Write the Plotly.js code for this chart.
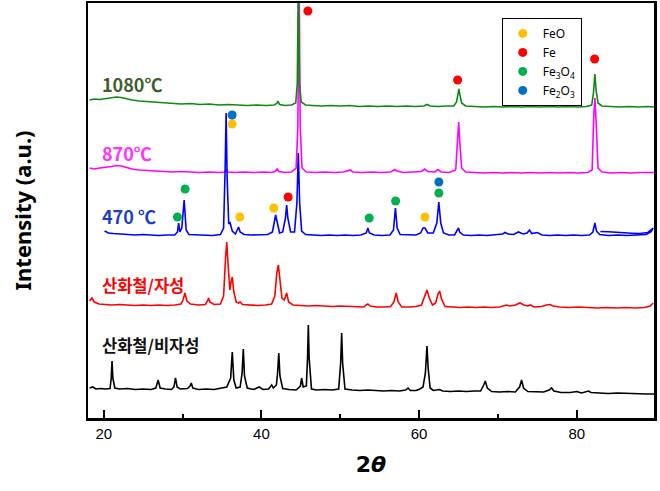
<!DOCTYPE html>
<html>
<head>
<meta charset="utf-8">
<script src="https://cdn.plot.ly/plotly-3.0.1.min.js"></script>
<style>html,body{margin:0;padding:0;background:#fff;}#chart{width:660px;height:491px;}</style>
</head>
<body>
<div id="chart"></div>
<script>
// 2θ vs offset intensity (a.u.)
const s1080 = [[18.2,318],[18.8,319],[19.5,318.5],[20.3,319.5],[21.0,320],[21.6,321],[22.2,320.5],[22.9,319],[23.6,318],[24.5,317],[25.5,316.5],[26.5,315.5],[27.6,315],[28.7,314.5],[29.8,314],[31.0,314.5],[32.2,313.5],[33.4,314],[34.6,313],[35.8,313.5],[37.0,313],[38.2,312.5],[39.4,313],[40.6,312.5],[41.6,313],[41.95,314.5],[42.1,317],[42.3,313.5],[43.0,312.5],[43.8,313],[44.35,315],[44.55,335],[44.68,440],[44.82,335],[45.05,316],[45.6,313],[46.5,312.5],[47.6,312],[48.8,312.5],[50.0,312],[51.2,312.5],[52.4,311.5],[53.6,312],[54.8,311.5],[56.0,312],[57.2,311.5],[58.4,312],[59.6,311.5],[60.6,312],[61.0,313.5],[61.4,312],[62.4,311.5],[63.4,312],[64.4,312],[64.75,316],[64.92,324],[65.05,329],[65.18,323],[65.4,315],[65.9,312],[67.0,311.5],[68.2,311],[69.4,311.5],[70.6,311],[71.8,311.5],[73.0,311],[74.2,311.5],[75.4,311],[76.6,311.5],[77.8,311],[79.0,311.5],[80.2,311],[81.2,311.5],[81.9,313],[82.12,325],[82.3,344],[82.45,328],[82.7,315],[83.2,312],[84.2,311.5],[85.4,311],[86.6,311.5],[87.8,311],[89.0,311.5],[89.8,311]];
const s870 = [[18.2,250],[18.8,249],[19.5,250],[20.3,250.5],[21.0,251.5],[21.6,252.5],[22.2,252],[22.9,250.5],[23.6,249],[24.5,248],[25.5,247.5],[26.5,247],[27.6,246.5],[28.7,246],[29.8,246.5],[31.0,246],[32.2,245.5],[33.4,246],[34.6,245.5],[35.3,246],[35.55,248],[35.8,246],[36.6,245.5],[37.8,246],[39.0,245.5],[40.2,246],[41.4,245.5],[41.8,247],[42.0,249],[42.2,246.5],[43.0,245.5],[43.8,246],[44.4,250],[44.62,290],[44.78,440],[44.92,292],[45.15,250],[45.7,246],[46.8,245.5],[48.0,246],[49.2,245.5],[50.4,246],[51.0,247],[51.3,248],[51.6,246],[52.8,245.5],[54.0,246],[55.2,245.5],[56.4,246],[56.9,248.5],[57.2,247],[58.0,245.5],[59.2,246],[60.3,246.5],[60.7,249],[61.1,246.5],[62.0,246],[62.4,248.5],[62.8,246],[63.8,245.5],[64.65,248],[64.88,280],[65.02,296],[65.15,278],[65.4,250],[65.9,246],[67.0,245.5],[68.2,245],[69.4,245.5],[70.6,245],[71.8,245.5],[73.0,245],[74.2,245.5],[75.4,245],[76.6,245.5],[77.8,245],[79.0,245.5],[80.2,245],[81.4,245.5],[81.95,248],[82.15,300],[82.3,320],[82.45,298],[82.7,250],[83.2,246],[84.4,245],[85.6,245.5],[86.8,245],[88.0,245.5],[89.2,245],[89.8,245.5]];
const s470 = [[20.1,187],[20.6,185],[21.2,184.5],[22.0,184],[23.0,183.5],[24.0,183],[25.0,183.5],[26.0,183],[27.0,182.5],[28.0,183],[29.0,183],[29.35,186],[29.5,195],[29.65,186],[29.9,190],[30.2,218],[30.45,188],[30.8,183.5],[31.8,183],[32.8,183],[33.8,182.5],[34.8,183.5],[35.2,190],[35.4,250],[35.52,305],[35.65,240],[35.85,194],[36.0,196],[36.3,187],[36.7,184],[36.95,188],[37.1,191],[37.3,186],[37.8,183.5],[38.8,183],[39.8,183],[40.8,183.5],[41.4,186],[41.65,196],[41.8,203],[42.0,196],[42.3,185],[42.7,186],[43.05,200],[43.2,213],[43.35,200],[43.7,186],[44.2,186],[44.5,215],[44.68,265],[44.85,215],[45.1,187],[45.6,183.5],[46.6,183],[47.6,182.5],[48.6,183],[49.6,182.5],[50.6,183],[51.6,182.5],[52.6,183],[53.3,185],[53.5,190],[53.7,185],[54.3,183],[55.3,182.5],[56.3,183],[56.75,188],[57.0,210],[57.22,190],[57.6,183.5],[58.6,183],[59.6,183],[60.2,185],[60.5,190],[60.75,190],[61.1,185],[61.8,185],[62.25,195],[62.5,216],[62.75,195],[63.1,185],[63.8,183],[64.5,183],[64.85,187],[65.0,190],[65.15,186],[65.6,183],[66.6,182.5],[67.6,183],[68.6,182.5],[69.6,183],[70.6,184],[70.9,185.5],[71.3,184],[72.0,183.5],[72.6,186],[73.2,184],[73.7,185],[74.0,188],[74.3,184.5],[75.0,185.5],[75.6,183],[76.6,182.5],[77.6,183],[78.6,182.5],[79.6,183],[80.6,182.5],[81.6,183],[82.05,186],[82.3,195],[82.5,187],[82.9,183.5],[84.0,182.5],[85.2,183],[86.4,182.5],[87.6,183],[88.8,183.5],[89.4,186],[89.7,190],[89.0,185.5],[88.0,184.5],[87.0,184.8],[86.0,185.5],[85.0,185.8],[84.0,186.2],[83.0,186.5]];
const sMag = [[18.2,117],[18.5,120],[18.8,116],[19.4,114],[20.2,113.5],[21.0,113],[22.0,113.5],[23.0,113],[24.0,112.5],[25.0,113],[26.0,112.5],[27.0,113],[28.0,112.5],[29.0,113],[29.8,114],[30.05,118],[30.3,125],[30.55,117],[31.0,114],[32.0,113],[32.9,113.5],[33.15,117],[33.3,120],[33.45,116],[34.0,113.5],[34.8,114],[35.2,122],[35.45,160],[35.6,176],[35.8,150],[36.0,128],[36.15,136],[36.3,141],[36.5,126],[36.8,116],[37.1,115],[37.3,116],[37.6,113.5],[38.5,113],[39.5,112.5],[40.5,113],[41.3,114],[41.7,122],[41.95,145],[42.15,153],[42.35,140],[42.6,120],[42.9,118],[43.2,125],[43.45,116],[44.0,113],[45.0,112.5],[46.0,112],[47.0,112.5],[48.0,112],[49.0,111.5],[50.0,112],[51.0,111.5],[52.0,111.5],[53.0,111],[53.3,113],[53.5,114],[53.8,112],[54.6,111],[55.6,111],[56.4,111.5],[56.8,116],[57.1,125],[57.35,116],[57.8,111],[58.8,111],[59.6,111.5],[60.3,113],[60.7,122],[61.0,128],[61.3,120],[61.7,113],[62.1,115],[62.4,124],[62.6,127],[62.85,119],[63.3,111.5],[64.2,111],[65.2,110.5],[66.2,111],[67.2,110.5],[68.2,111],[69.2,110.5],[70.2,111],[70.8,112],[71.1,113],[71.5,112],[72.2,113],[72.8,115],[73.3,113],[73.8,112],[74.1,113],[74.6,111],[75.5,111.5],[76.2,113],[76.6,113.5],[77.0,112],[77.8,111],[79.0,110.5],[80.2,111],[81.4,110.5],[82.6,110],[83.8,110.5],[85.0,110],[86.2,110.5],[87.4,110],[88.6,110.5],[89.3,112],[89.7,115]];
const sNonMag = [[18.2,30],[18.6,31],[19.0,29],[19.6,29.5],[20.2,29],[20.8,29.5],[20.95,40],[21.05,57],[21.15,40],[21.4,30],[22.0,29],[23.0,29.5],[24.0,28.5],[25.0,29],[26.0,28.5],[26.6,30],[26.9,38],[27.15,30],[27.8,29],[28.6,28.5],[28.9,31],[29.1,40],[29.3,31],[29.7,29],[30.6,29.5],[30.95,32],[31.1,35],[31.3,30],[32.0,28.5],[33.0,29],[34.0,28.5],[34.8,29.5],[35.6,31],[36.1,40],[36.3,66],[36.5,38],[36.8,30],[37.3,31],[37.55,45],[37.7,69],[37.85,42],[38.2,30],[39.0,28.5],[39.7,31],[40.2,28.5],[40.9,29],[41.15,31],[41.3,33],[41.5,30],[41.9,33],[42.05,45],[42.2,65],[42.35,42],[42.7,29.5],[43.5,28.5],[44.4,28],[44.95,32],[45.1,40],[45.3,31],[45.7,32],[45.85,60],[45.95,93],[46.05,60],[46.35,29],[47.0,28],[48.0,28.5],[49.0,28],[49.8,29],[50.05,55],[50.18,85],[50.3,55],[50.6,29],[51.5,28],[52.5,27.5],[53.5,28],[54.5,27.5],[55.5,27],[56.5,27.5],[57.5,27],[58.3,28],[58.6,30],[58.9,27.5],[59.6,27.5],[60.1,29],[60.5,31],[60.8,45],[61.0,72],[61.15,50],[61.4,30],[61.8,27.5],[62.6,28.5],[63.0,27],[64.0,26.5],[65.0,27],[66.0,26.5],[67.0,27],[67.8,27],[68.2,33],[68.4,37],[68.65,30],[69.2,26.5],[70.2,26],[71.2,26.5],[72.2,26],[72.75,31],[73.0,38],[73.25,30],[73.8,26.5],[74.8,26],[75.8,26],[76.5,28],[76.8,30],[77.1,27],[78.0,25.5],[79.2,25.5],[80.0,26.5],[80.6,25],[81.3,26.5],[81.5,27],[81.8,25.5],[82.8,25],[84.0,24.5],[85.2,25],[86.4,24.5],[87.6,24.5],[88.8,24],[89.8,24]];

// phase markers [2θ, intensity]
const markFeO = [[36.28,294],[37.26,201],[41.57,210],[60.74,201]];
const markFe = [[43.39,221],[45.89,407],[64.89,338],[82.27,359]];
const markFe3O4 = [[29.35,201],[30.32,229],[53.67,200],[57.02,217],[62.51,225]];
const markFe2O3 = [[36.28,303],[62.51,236]];

const seriesNames = ['산화철/비자성','산화철/자성','470 ℃','870℃','1080℃'];
const phaseNames = ['FeO','Fe','Fe<sub>3</sub>O<sub>4</sub>','Fe<sub>2</sub>O<sub>3</sub>'];
const xTicks = [20,40,60,80];

const lineDefs = [
  {d:sNonMag, c:'#000000', n:seriesNames[0]},
  {d:sMag, c:'#FF0000', n:seriesNames[1]},
  {d:s870, c:'#FF00FF', n:seriesNames[3]},
  {d:s470, c:'#0000FF', n:seriesNames[2]},
  {d:s1080, c:'#118811', n:seriesNames[4]}
];
const traces = lineDefs.map(o => ({
  type:'scatter', mode:'lines', name:o.n, showlegend:false,
  x:o.d.map(p=>p[0]), y:o.d.map(p=>p[1]),
  line:{color:o.c, width:1.6}, hoverinfo:'skip'
}));
const markDefs = [
  {d:markFeO, c:'#FFC000'}, {d:markFe, c:'#FF0000'},
  {d:markFe3O4, c:'#00B050'}, {d:markFe2O3, c:'#0070C0'}
];
markDefs.forEach((o,i) => traces.push({
  type:'scatter', mode:'markers', name:phaseNames[i],
  x:o.d.map(p=>p[0]), y:o.d.map(p=>p[1]),
  marker:{color:o.c, size:9}
}));

const labelFont = 'Noto Sans CJK KR, Noto Sans, sans-serif';
const labels = [
  {t:'<b>1080℃</b>', y:334, c:'#3D6030', s:18},
  {t:'<b>870℃</b>', y:265, c:'#FF33FF', s:18},
  {t:'<b>470 ℃</b>', y:202, c:'#1F3FBF', s:18},
  {t:'<b>산화철/자성</b>', y:133, c:'#FF0000', s:16.5},
  {t:'<b>산화철/비자성</b>', y:73, c:'#111111', s:16.5}
];

const layout = {
  width:660, height:491,
  margin:{l:88, r:6, t:3, b:73},
  paper_bgcolor:'#fff', plot_bgcolor:'#fff',
  showlegend:true,
  legend:{x:0.731, y:0.964, xanchor:'left', yanchor:'top',
    bordercolor:'#000', borderwidth:1, bgcolor:'#fff',
    font:{family:'Noto Sans, sans-serif', size:12, color:'#000'}},
  xaxis:{range:[18,89.8], showline:true, mirror:true, linecolor:'#000', linewidth:2.5,
    tickvals:xTicks, ticktext:xTicks.map(String), ticks:'inside', ticklen:8, tickwidth:2, tickcolor:'#000',
    minor:{tickvals:[30,50,70], ticks:'inside', ticklen:4, tickwidth:2, tickcolor:'#000'},
    showgrid:false, zeroline:false,
    tickfont:{family:'Liberation Sans, Arial, sans-serif', size:15, color:'#000'},
    title:{text:'<b>2<i>θ</i></b>', font:{family:'DejaVu Sans, sans-serif', size:22, color:'#000'}, standoff:16}},
  yaxis:{range:[0,415], showline:true, mirror:true, linecolor:'#000', linewidth:2.5,
    showticklabels:false, ticks:'', showgrid:false, zeroline:false,
    title:{text:'<b>Intensity (a.u.)</b>', font:{family:'Noto Sans, sans-serif', size:22, color:'#000'}, standoff:48}},
  annotations: labels.map(l => ({
    x:19.5, y:l.y, xref:'x', yref:'y', xanchor:'left', yanchor:'middle',
    text:l.t, showarrow:false, font:{family:labelFont, size:l.s, color:l.c}
  }))
};

Plotly.newPlot('chart', traces, layout, {displayModeBar:false, staticPlot:true});
</script>
</body>
</html>
